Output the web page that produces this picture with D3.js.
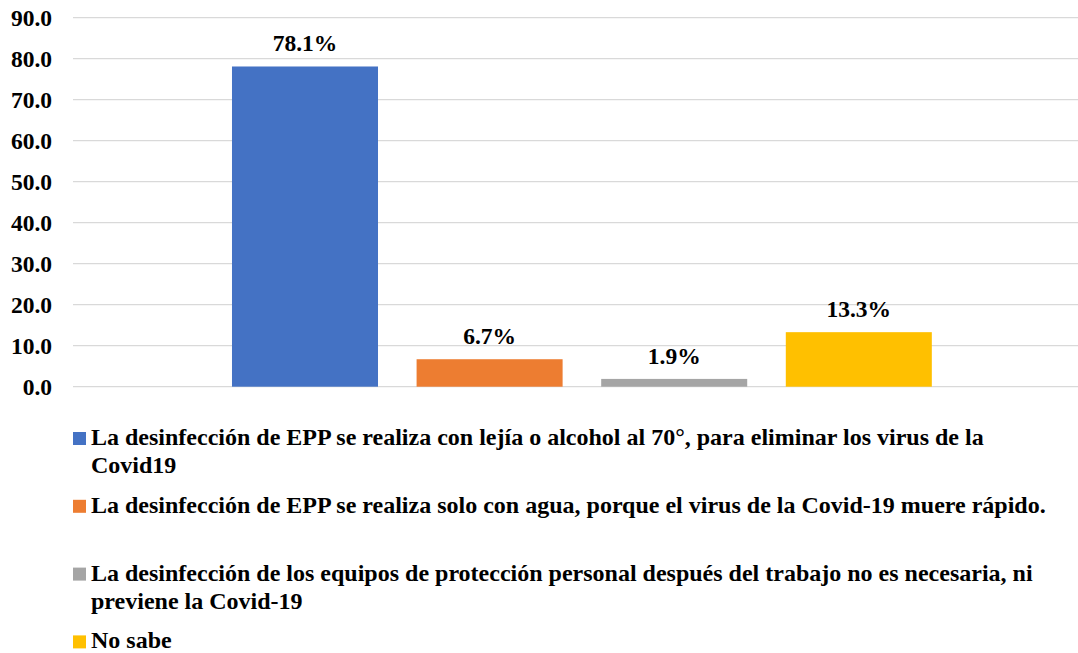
<!DOCTYPE html>
<html>
<head>
<meta charset="utf-8">
<script src="https://cdn.jsdelivr.net/npm/d3@7"></script>
<style>
  body { margin: 0; background: #fff; }
  text { font-family: "Liberation Serif", "Times New Roman", serif; font-weight: bold; fill: #000; }
</style>
</head>
<body>
<div id="chart"></div>
<script>
// series names (legend), one bar each
var seriesNames = [
  "La desinfección de EPP se realiza con lejía o alcohol al 70°, para eliminar los virus de la\nCovid19",
  "La desinfección de EPP se realiza solo con agua, porque el virus de la Covid-19 muere rápido.",
  "La desinfección de los equipos de protección personal después del trabajo no es necesaria, ni\npreviene la Covid-19",
  "No sabe"
];
var seriesValues = [78.1, 6.7, 1.9, 13.3];
var seriesColors = ["#4472C4", "#ED7D31", "#A5A5A5", "#FFC000"];
var yTicks = [0, 10, 20, 30, 40, 50, 60, 70, 80, 90];

var svgWidth = 1078, svgHeight = 653;

var svg = d3.select("#chart").append("svg")
  .attr("width", svgWidth)
  .attr("height", svgHeight);

// plot area
var plotLeft = 73, plotRight = 1078, plotTop = 17.7, plotBottom = 386.7;

var y = d3.scaleLinear().domain([0, 90]).range([plotBottom, plotTop]);

var x = d3.scaleBand()
  .domain(d3.range(seriesValues.length))
  .range([212.6, 951.2])
  .paddingInner(0.209)
  .paddingOuter(0.105);

// gridlines
svg.append("g").selectAll("line")
  .data(yTicks)
  .enter().append("line")
  .attr("x1", plotLeft)
  .attr("x2", plotRight)
  .attr("y1", d => y(d))
  .attr("y2", d => y(d))
  .attr("stroke", "#d9d9d9")
  .attr("stroke-width", 1.3);

// y axis labels
var leftAxis = d3.axisLeft(y).tickValues(yTicks).tickFormat(d3.format(".1f")).tickSize(0).tickPadding(0);
var axisG = svg.append("g")
  .attr("transform", "translate(52,0)")
  .call(leftAxis);
axisG.select(".domain").remove();
axisG.selectAll("text")
  .style("font-family", "'Liberation Serif', 'Times New Roman', serif")
  .style("font-weight", "bold")
  .style("font-size", "23.5px")
  .attr("fill", "#000");

// bars
svg.append("g").selectAll("rect")
  .data(seriesValues)
  .enter().append("rect")
  .attr("x", (d, i) => x(i))
  .attr("y", d => y(d))
  .attr("width", x.bandwidth())
  .attr("height", d => plotBottom - y(d))
  .attr("fill", (d, i) => seriesColors[i]);

// value labels
svg.append("g").selectAll("text")
  .data(seriesValues)
  .enter().append("text")
  .attr("x", (d, i) => x(i) + x.bandwidth() / 2)
  .attr("y", d => y(d) - 15)
  .attr("text-anchor", "middle")
  .style("font-size", "23.5px")
  .text(d => d.toFixed(1) + "%");

// legend
var legend = svg.append("g");
var legendTop = 432, legendStep = 67.8;
seriesNames.forEach(function(name, i) {
  var g = legend.append("g").attr("transform", `translate(0, ${legendTop + i * legendStep})`);
  g.append("rect")
    .attr("x", 73).attr("y", 0)
    .attr("width", 13).attr("height", 13)
    .attr("fill", seriesColors[i]);
  var t = g.append("text")
    .attr("x", 91)
    .attr("y", 13)
    .style("font-size", "24px");
  name.split("\n").forEach(function(line, j) {
    t.append("tspan")
      .attr("x", 91)
      .attr("dy", j === 0 ? 0 : 28)
      .text(line);
  });
});
</script>
</body>
</html>
